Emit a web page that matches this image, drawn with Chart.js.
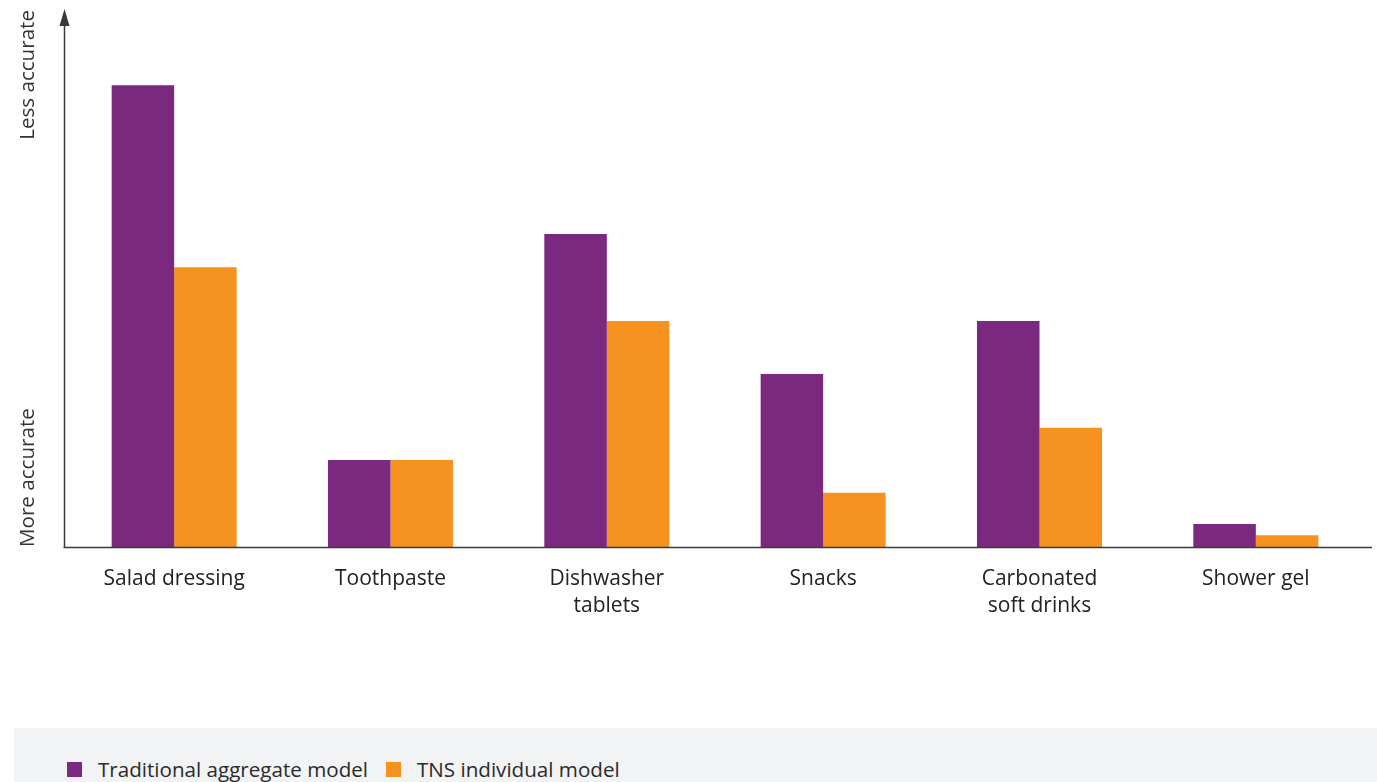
<!DOCTYPE html>
<html>
<head>
<meta charset="utf-8">
<script src="https://cdn.jsdelivr.net/npm/chart.js@4/dist/chart.umd.min.js"></script>
<style>
  html, body { margin: 0; padding: 0; background: #ffffff; }
  body { width: 1377px; height: 782px; position: relative; overflow: hidden; font-family: "Open Sans", sans-serif; }
  #wrap { position: absolute; left: 0; top: 0; width: 1377px; height: 720px; }
  #legend { position: absolute; left: 14px; top: 728px; width: 1363px; height: 54px; background: #f2f3f5; }
  .item { position: absolute; top: 26px; height: 30px; font-size: 20.6px; color: #2a2a2a; line-height: 30px; white-space: nowrap; }
  .sw { position: absolute; top: 8px; width: 15px; height: 15px; }
  .lbl { position: absolute; left: 31px; top: 0; }
</style>
</head>
<body>
<div id="wrap"><canvas id="c" width="1377" height="720"></canvas></div>
<div id="legend"></div>
<script>
const categories = ["Salad dressing", "Toothpaste", ["Dishwasher", "tablets"], "Snacks", ["Carbonated", "soft drinks"], "Shower gel"];
const seriesNames = ["Traditional aggregate model", "TNS individual model"];
const traditionalValues = [86.0, 16.2, 58.3, 32.2, 42.1, 4.3];
const tnsValues = [52.1, 16.2, 42.1, 10.1, 22.2, 2.2];
const axisLabels = ["Less accurate", "More accurate"];
const colors = ["#7b297e", "#f6921f"];

// HTML legend
const legend = document.getElementById('legend');
const legendX = [53, 372];
seriesNames.forEach((n, i) => {
  const d = document.createElement('div');
  d.className = 'item';
  d.style.left = legendX[i] + 'px';
  d.innerHTML = '<div class="sw" style="background:' + colors[i] + '"></div><div class="lbl">' + n + '</div>';
  legend.appendChild(d);
});

const axisPlugin = {
  id: 'axisPlugin',
  afterDraw(chart) {
    const ctx = chart.ctx;
    const area = chart.chartArea;
    const x0 = 64.5, yb = area.bottom;
    ctx.save();
    ctx.strokeStyle = '#3a3a3a';
    ctx.fillStyle = '#3a3a3a';
    ctx.lineWidth = 1.5;
    // x axis line
    ctx.beginPath();
    ctx.moveTo(x0 - 1, yb + 0.5);
    ctx.lineTo(1372, yb + 0.5);
    ctx.stroke();
    // y axis line
    ctx.beginPath();
    ctx.moveTo(x0, yb + 0.5);
    ctx.lineTo(x0, 22);
    ctx.stroke();
    // arrow head
    ctx.beginPath();
    ctx.moveTo(x0, 9);
    ctx.lineTo(x0 - 5, 26);
    ctx.lineTo(x0 + 5, 26);
    ctx.closePath();
    ctx.fill();
    // axis labels
    ctx.fillStyle = '#333333';
    ctx.font = '20.6px "Open Sans", sans-serif';
    ctx.textBaseline = 'middle';
    ctx.translate(28, 0);
    ctx.rotate(-Math.PI / 2);
    ctx.textAlign = 'right';
    ctx.fillText(axisLabels[0], -10, 0);
    ctx.textAlign = 'left';
    ctx.fillText(axisLabels[1], -yb, 0);
    ctx.restore();
  }
};

new Chart(document.getElementById('c'), {
  type: 'bar',
  data: {
    labels: categories,
    datasets: [
      { label: seriesNames[0], data: traditionalValues, backgroundColor: colors[0], borderWidth: 0 },
      { label: seriesNames[1], data: tnsValues, backgroundColor: colors[1], borderWidth: 0 }
    ]
  },
  options: {
    responsive: false,
    animation: false,
    devicePixelRatio: 1,
    layout: { padding: { left: 66, right: 13, top: 10, bottom: 0 } },
    plugins: { legend: { display: false }, tooltip: { enabled: false } },
    datasets: { bar: { categoryPercentage: 0.578, barPercentage: 1.0 } },
    scales: {
      x: {
        grid: { display: false, drawTicks: false },
        border: { display: false },
        ticks: {
          color: '#222222',
          font: { family: '"Open Sans", sans-serif', size: 21, lineHeight: 1.29 },
          padding: 18,
          maxRotation: 0,
          autoSkip: false
        },
        afterFit(s) { s.height = 173; }
      },
      y: {
        display: false,
        min: 0,
        max: 100
      }
    }
  },
  plugins: [axisPlugin]
});
</script>
</body>
</html>
